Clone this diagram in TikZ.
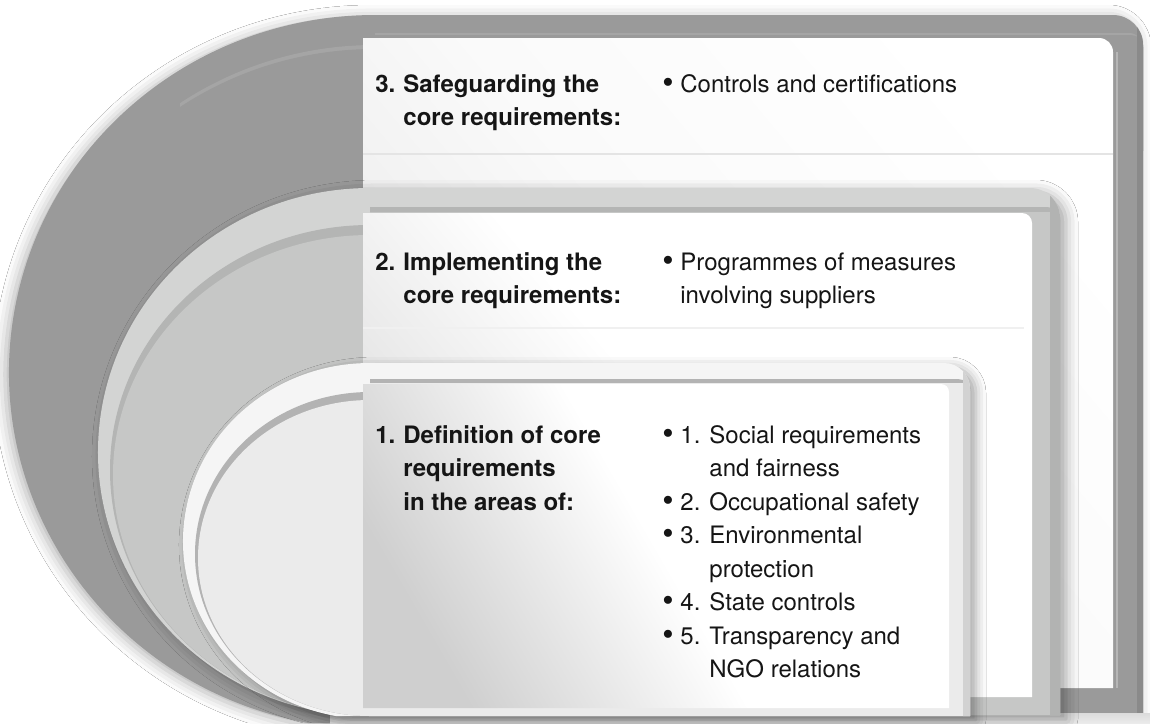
\documentclass[tikz,border=0pt]{standalone}
\usepackage{fontspec}
\usepackage{graphicx}
\setmainfont{TeX Gyre Heros}
\usetikzlibrary{shadows.blur}
\definecolor{txt}{HTML}{151515}
\definecolor{pthree}{HTML}{9A9A9A}
\definecolor{pthreeline}{HTML}{A5A5A5}
\definecolor{pthreedark}{HTML}{8A8A8A}
\definecolor{pthreehi}{HTML}{B6B6B6}
\definecolor{ptwoL}{HTML}{D3D4D3}
\definecolor{ptwoD}{HTML}{B4B5B4}
\definecolor{ptwoF}{HTML}{C6C7C6}
\definecolor{ptwoR}{HTML}{B2B3B2}
\definecolor{poneL}{HTML}{F5F5F5}
\definecolor{poneD}{HTML}{B3B3B3}
\definecolor{poneF}{HTML}{EBEBEB}
\definecolor{poneR}{HTML}{D2D2D2}
\definecolor{sepline}{HTML}{E4E4E4}
% #1 options, #2 cx, #3 cy, #4 rx, #5 ry, #6 right, #7 bottom, #8 corner radius (px, y down)
\newcommand\pshape[8]{%
  \pgfmathsetmacro\pA{asin(min(1,(#7-#3)/#5))}%
  \pgfmathsetmacro\pXb{#2-#4*cos(\pA)}%
  \pgfmathsetmacro\pTop{#3-#5}%
  \path[#1] (#2,-\pTop) -- (#6-#8,-\pTop) arc[start angle=90,end angle=0,radius=#8]
    -- (#6,-#7) -- (\pXb,-#7) arc[start angle=180+\pA,end angle=90,x radius=#4,y radius=#5] -- cycle;}
\newcommand\pcontent[6]{% #1 options, #2 left, #3 top, #4 right, #5 bottom, #6 radius
  \path[#1] (#2,-#3) -- (#4-#6,-#3) arc[start angle=90,end angle=0,radius=#6] -- (#4,-#5) -- (#2,-#5) -- cycle;}
\newcommand\bul{\raisebox{-0.06em}{\scalebox{1.35}{\textbullet}}}
\tikzset{
  hd/.style={anchor=base west, inner sep=0pt, text=txt, font=\fontsize{12pt}{16.75pt}\selectfont\bfseries},
  bl/.style={anchor=base west, inner sep=0pt, text=txt, font=\fontsize{12pt}{16.75pt}\selectfont},
  sep/.style={draw=sepline, line width=0.6pt}
}
\begin{document}
\begin{tikzpicture}[x=0.5pt,y=0.5pt]
\useasboundingbox (0,0) rectangle (1150,-723);
\begin{scope}
\clip (0,0) rectangle (1150,-723);
\fill[white] (0,0) rectangle (1150,-723);
% ---------- panel 3 ----------
\pshape{fill=pthree, blur shadow={shadow xshift=-2pt, shadow yshift=-1pt, shadow blur radius=6pt, shadow opacity=30}}{375}{372}{366}{357}{1143}{723}{30}
\begin{scope}
  \clip (180,0) rectangle (1150,-150);
  \pshape{fill=pthreeline}{375}{372}{348}{339}{1143}{723}{14}
  \pshape{fill=pthree}{375}{372}{347.5}{337}{1143}{723}{12}
\end{scope}
\begin{scope}
  \pshape{clip}{375}{372}{366}{357}{1143}{723}{30}
  \fill[pthreedark] (1137,0) rectangle (1150,-723);
\end{scope}
\pcontent{shade, top color=white, bottom color=black!9, middle color=white!98!black, shading angle=-50}{363}{38}{1113}{688}{14}
\draw[pthreehi, line width=0.8pt] (1117,-52) -- (1117,-688);
\draw[sep] (363,-154) -- (1113,-154);
\node[hd] (h3) at (375,-92) {\begin{tabular}[t]{@{}p{14pt}@{}l@{}}3. & Safeguarding the\\ & core requirements:\end{tabular}};
\node[bl] (b3) at (662,-92) {\begin{tabular}[t]{@{}p{9pt}@{}l@{}}\bul & Controls and certifications\end{tabular}};
% floor strip
\shade[top color=black!14, bottom color=black!8] (330,-713) rectangle (1150,-723);
% ---------- panel 2 ----------
\pshape{fill=ptwoL, blur shadow={shadow xshift=3pt, shadow yshift=-2pt, shadow blur radius=6pt, shadow opacity=35}}{370}{452}{272}{264}{1060}{715}{30}
\pshape{fill=ptwoD}{370}{452}{260}{245}{1060}{715}{14}
\pshape{fill=ptwoF}{370}{452}{257}{240}{1060}{715}{10}
\begin{scope}
  \pshape{clip}{370}{452}{272}{264}{1060}{715}{30}
  \fill[ptwoR] (1050,0) rectangle (1070,-723);
\end{scope}
\pcontent{shade, top color=white, bottom color=black!14, middle color=white, shading angle=-50}{363}{213}{1032}{697}{10}
\draw[sep, draw=black!6] (363,-328) -- (1024,-328);
\node[hd] (h2) at (375,-270) {\begin{tabular}[t]{@{}p{14pt}@{}l@{}}2. & Implementing the\\ & core requirements:\end{tabular}};
\node[bl] (b2) at (662,-270) {\begin{tabular}[t]{@{}p{9pt}@{}l@{}}\bul & Programmes of measures\\ & involving suppliers\end{tabular}};
% ---------- panel 1 ----------
\pshape{fill=poneL, blur shadow={shadow xshift=3pt, shadow yshift=-2pt, shadow blur radius=5pt, shadow opacity=35}}{370}{541}{187}{178}{970}{716}{26}
\pshape{fill=poneD}{370}{541}{175}{162}{970}{716}{12}
\pshape{fill=poneF}{370}{541}{172}{158}{970}{716}{8}
\begin{scope}
  \pshape{clip}{370}{541}{187}{178}{970}{716}{26}
  \fill[poneR] (963,0) rectangle (980,-723);
\end{scope}
\pcontent{shade, top color=white, bottom color=black!19, middle color=white, shading angle=-60}{363}{384}{949}{708}{8}
\node[hd] (h1) at (375,-443) {\begin{tabular}[t]{@{}p{14pt}@{}l@{}}1. & Definition of core\\ & requirements\\ & in the areas of:\end{tabular}};
\node[bl] (b1) at (662,-443) {\begin{tabular}[t]{@{}p{9pt}@{}p{14.5pt}@{}l@{}}
\bul & 1. & Social requirements\\
 & & and fairness\\
\bul & 2. & Occupational safety\\
\bul & 3. & Environmental\\
 & & protection\\
\bul & 4. & State controls\\
\bul & 5. & Transparency and\\
 & & NGO relations
\end{tabular}};
\end{scope}
\end{tikzpicture}
\end{document}
